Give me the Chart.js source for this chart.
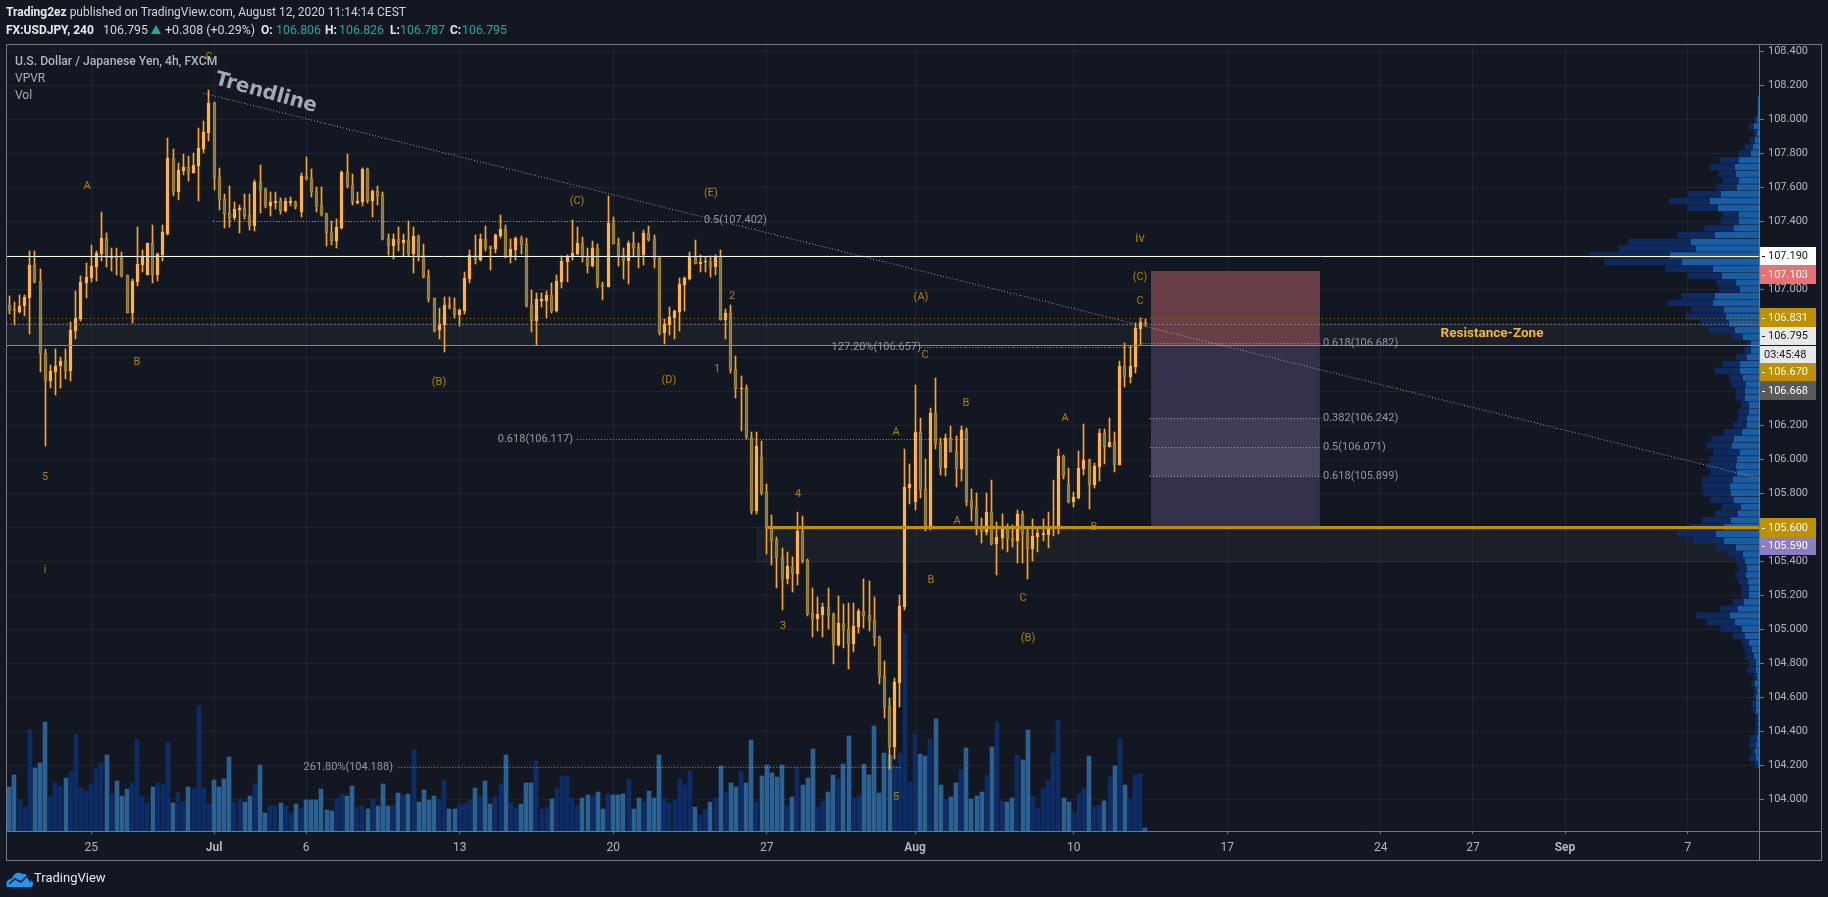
<!DOCTYPE html>
<html>
<head>
<meta charset="utf-8">
<title>USDJPY</title>
<script src="https://cdn.jsdelivr.net/npm/chart.js@4/dist/chart.umd.js"></script>
<style>
  html, body { margin: 0; padding: 0; background: #131722; overflow: hidden; }
  #page { position: relative; width: 1828px; height: 897px; }
  canvas { position: absolute; left: 0; top: 0; }
  .hd { position: absolute; white-space: nowrap; font: 12px Roboto, sans-serif; color: #d1d4dc; line-height: 16px; }
  .hd b { font-weight: 700; color: #e6e8ee; }
  .v { font-size: 12.4px; }
  .teal { color: #26a69a; }
</style>
</head>
<body>
<div id="page">
  <canvas id="myChart" width="1828" height="897"></canvas>
  <div class="hd" style="left:6px;top:4px"><b>Trading2ez</b> published on TradingView.com, August 12, 2020 11:14:14 CEST</div>
  <div class="hd" style="left:6px;top:22px"><b>FX:USDJPY, 240</b></div>
  <div class="hd v" style="left:103px;top:22px">106.795</div>
  <svg style="position:absolute;left:151px;top:25px" width="10" height="9" viewBox="0 0 10 9"><path d="M5 0 L10 9 L0 9 Z" fill="#26a69a"/></svg>
  <div class="hd v" style="left:165px;top:22px">+0.308 (+0.29%)</div>
  <div class="hd" style="left:261px;top:22px"><b>O:</b></div>
  <div class="hd teal v" style="left:276px;top:22px">106.806</div>
  <div class="hd" style="left:325px;top:22px"><b>H:</b></div>
  <div class="hd teal v" style="left:339px;top:22px">106.826</div>
  <div class="hd" style="left:390px;top:22px"><b>L:</b></div>
  <div class="hd teal v" style="left:400px;top:22px">106.787</div>
  <div class="hd" style="left:450px;top:22px"><b>C:</b></div>
  <div class="hd teal v" style="left:462px;top:22px">106.795</div>
  <svg style="position:absolute;left:6px;top:871px" width="27" height="16" viewBox="0 0 27 16">
    <path d="M1 16 C-1 11 2 8 6 8 C7 3 12 0 16 3 C20 2 23 5 23 8 C27 9 28 13 26 16 Z" fill="#2196f3"/>
    <path d="M3 13 L9 8 L15 11 L21 5 L25 11" fill="none" stroke="#131722" stroke-width="1.6"/>
  </svg>
  <div class="hd" style="left:34px;top:870px;font-size:13px;color:#e6e8ee">TradingView</div>
</div>
<script>
"use strict";

var opens = [
  106.910,106.887,106.869,106.899,106.951,107.146,107.051,106.628,106.463,106.516,
  106.546,106.581,106.522,106.757,106.828,107.040,107.069,107.134,107.210,107.304,
  107.187,107.195,107.187,107.087,106.863,107.046,107.146,107.087,107.275,107.087,
  107.204,107.328,107.775,107.575,107.699,107.722,107.687,107.728,107.828,107.922,
  108.099,107.663,107.534,107.451,107.422,107.469,107.481,107.440,107.375,107.634,
  107.593,107.493,107.510,107.522,107.463,107.510,107.516,107.457,107.669,107.657,
  107.581,107.499,107.446,107.340,107.287,107.363,107.693,107.616,107.510,107.516,
  107.710,107.522,107.581,107.557,107.304,107.257,107.299,107.275,107.292,107.210,
  107.316,107.204,107.080,106.951,106.763,106.792,106.910,106.892,106.851,106.875,
  107.063,107.204,107.175,107.298,107.257,107.239,107.316,107.357,107.196,107.233,
  107.304,107.269,106.910,106.816,106.933,106.933,106.969,106.875,107.045,107.163,
  107.192,107.210,107.275,107.198,107.139,107.245,107.033,107.016,107.392,107.275,
  107.204,107.169,107.275,107.251,107.204,107.333,107.298,107.186,106.745,106.792,
  106.833,106.869,107.028,107.063,107.192,107.151,107.159,107.163,107.133,107.198,
  106.822,106.863,106.533,106.416,106.422,106.132,105.697,106.015,105.809,105.597,
  105.526,105.426,105.297,105.374,105.326,105.579,105.409,105.097,105.062,105.085,
  105.132,105.091,104.909,105.038,105.003,104.915,105.015,105.109,105.085,105.056,
  104.956,104.726,104.550,104.309,104.685,105.132,105.832,105.750,106.162,105.826,
  105.591,106.274,106.097,105.950,106.126,106.050,105.944,106.174,105.756,105.721,
  105.609,105.574,105.691,105.503,105.538,105.597,105.538,105.521,105.679,105.568,
  105.474,105.544,105.556,105.556,105.597,105.603,106.021,105.856,105.750,105.774,
  105.944,105.997,105.850,105.956,106.156,106.074,106.103,105.968,106.550,106.486,
  106.544,106.768,106.806
];
var highs = [
  106.963,106.928,106.969,106.969,107.228,107.228,107.122,106.646,106.557,106.646,
  106.599,106.651,106.810,106.993,107.081,107.157,107.263,107.228,107.457,107.334,
  107.246,107.246,107.222,107.087,107.063,107.369,107.234,107.275,107.381,107.216,
  107.381,107.893,107.828,107.746,107.799,107.787,107.804,107.951,107.993,108.175,
  108.105,107.716,107.563,107.610,107.516,107.499,107.563,107.563,107.646,107.734,
  107.599,107.575,107.575,107.540,107.540,107.546,107.522,107.687,107.781,107.710,
  107.604,107.604,107.451,107.404,107.416,107.699,107.799,107.681,107.575,107.716,
  107.716,107.587,107.610,107.575,107.328,107.328,107.369,107.328,107.404,107.369,
  107.322,107.269,107.116,106.951,106.892,106.957,106.957,106.951,106.886,107.104,
  107.233,107.322,107.328,107.375,107.257,107.328,107.439,107.380,107.298,107.310,
  107.316,107.304,106.998,106.980,106.980,106.992,107.039,107.086,107.198,107.204,
  107.410,107.369,107.310,107.245,107.286,107.269,107.045,107.551,107.428,107.304,
  107.245,107.286,107.339,107.275,107.351,107.375,107.322,107.192,106.828,106.898,
  106.880,107.069,107.072,107.222,107.292,107.204,107.192,107.198,107.204,107.233,
  106.886,106.910,106.610,106.492,106.439,106.162,106.162,106.109,105.856,105.674,
  105.544,105.479,105.456,105.426,105.691,105.668,105.415,105.244,105.191,105.156,
  105.244,105.097,105.197,105.150,105.156,105.156,105.121,105.297,105.285,105.191,
  104.962,104.815,104.597,104.715,105.203,106.062,105.974,106.438,106.244,106.003,
  106.303,106.479,106.126,106.150,106.197,106.138,106.197,106.185,105.826,105.803,
  105.656,105.803,105.879,105.632,105.679,105.621,105.615,105.703,105.697,105.591,
  105.650,105.591,105.650,105.691,105.879,106.062,106.026,105.950,105.809,106.050,
  106.209,106.003,105.979,106.179,106.179,106.244,106.162,106.580,106.686,106.668,
  106.803,106.833,106.826
];
var lows = [
  106.857,106.793,106.861,106.846,106.740,107.040,106.516,106.075,106.422,106.381,
  106.422,106.475,106.463,106.710,106.816,106.951,107.046,107.051,107.169,107.134,
  107.110,107.087,107.075,106.863,106.799,107.022,107.104,107.087,107.040,107.051,
  107.169,107.322,107.551,107.528,107.675,107.640,107.685,107.522,107.804,107.875,
  107.587,107.469,107.363,107.369,107.410,107.334,107.416,107.351,107.346,107.451,
  107.481,107.434,107.475,107.446,107.457,107.493,107.475,107.428,107.646,107.546,
  107.457,107.434,107.257,107.263,107.246,107.357,107.599,107.499,107.504,107.493,
  107.510,107.428,107.499,107.293,107.204,107.181,107.228,107.198,107.198,107.098,
  107.169,107.069,106.928,106.751,106.710,106.633,106.886,106.833,106.786,106.857,
  107.039,107.151,107.169,107.228,107.116,107.216,107.304,107.186,107.157,107.175,
  107.210,106.898,106.751,106.675,106.898,106.833,106.863,106.869,107.010,107.045,
  107.175,107.204,107.163,107.098,107.133,107.010,106.939,107.012,107.265,107.139,
  107.063,107.033,107.192,107.128,107.145,107.286,107.128,106.733,106.680,106.733,
  106.710,106.757,106.875,107.057,107.148,107.104,107.104,107.075,107.086,106.820,
  106.710,106.510,106.363,106.169,106.122,105.679,105.679,105.791,105.444,105.379,
  105.244,105.115,105.268,105.221,105.262,105.391,105.079,104.956,104.991,104.956,
  105.003,104.797,104.903,104.891,104.768,104.868,104.979,105.009,104.991,104.903,
  104.679,104.474,104.179,104.238,104.544,105.115,105.738,105.703,105.774,105.579,
  105.585,106.062,105.909,105.903,106.040,105.838,105.874,105.726,105.638,105.556,
  105.509,105.556,105.497,105.321,105.474,105.456,105.485,105.391,105.391,105.297,
  105.403,105.456,105.521,105.479,105.550,105.562,105.885,105.744,105.721,105.768,
  105.909,105.709,105.832,105.874,105.974,106.070,105.926,105.965,106.427,106.450,
  106.509,106.674,106.787
];
var closes = [
  106.881,106.871,106.904,106.957,107.146,107.046,106.622,106.463,106.522,106.551,
  106.581,106.522,106.763,106.834,107.046,107.075,107.140,107.216,107.304,107.187,
  107.195,107.181,107.081,106.863,107.051,107.151,107.199,107.275,107.087,107.210,
  107.340,107.775,107.575,107.704,107.722,107.687,107.734,107.834,107.928,108.099,
  107.657,107.528,107.446,107.422,107.475,107.481,107.434,107.375,107.634,107.587,
  107.493,107.516,107.522,107.463,107.522,107.522,107.487,107.669,107.650,107.575,
  107.493,107.440,107.334,107.287,107.369,107.693,107.610,107.516,107.522,107.710,
  107.522,107.581,107.551,107.299,107.257,107.299,107.275,107.292,107.210,107.316,
  107.198,107.075,106.945,106.757,106.798,106.910,106.892,106.851,106.880,107.069,
  107.204,107.175,107.298,107.251,107.239,107.322,107.357,107.192,107.239,107.304,
  107.263,106.904,106.816,106.945,106.945,106.969,106.875,107.051,107.169,107.198,
  107.216,107.275,107.192,107.139,107.245,107.028,107.016,107.392,107.269,107.198,
  107.169,107.275,107.245,107.204,107.333,107.292,107.180,106.745,106.798,106.839,
  106.875,107.033,107.069,107.192,107.151,107.161,107.163,107.133,107.198,106.822,
  106.863,106.528,106.416,106.422,106.128,105.697,106.079,105.803,105.597,105.521,
  105.421,105.297,105.374,105.326,105.579,105.403,105.091,105.062,105.091,105.132,
  105.085,104.909,105.038,104.997,104.915,105.021,105.109,105.079,105.050,104.950,
  104.721,104.544,104.309,104.691,105.138,105.838,105.856,106.162,105.821,105.591,
  106.274,106.091,105.950,106.126,106.044,105.944,106.174,105.750,105.715,105.603,
  105.574,105.691,105.503,105.544,105.591,105.532,105.521,105.679,105.562,105.474,
  105.550,105.568,105.568,105.591,105.609,106.021,105.903,105.750,105.779,105.950,
  105.997,105.850,105.962,106.156,106.074,106.103,105.968,106.550,106.486,106.550,
  106.774,106.809,106.795
];
var volumes = [
  133,169,94,73,304,190,205,328,103,145,
  136,160,181,292,130,121,142,187,205,229,
  112,151,106,127,145,277,106,85,133,145,
  142,268,85,118,88,133,127,376,130,82,
  154,133,157,223,88,97,88,106,142,199,
  55,76,76,85,76,55,82,70,94,94,
  94,127,64,61,100,112,106,136,73,76,
  67,97,76,142,76,76,115,109,112,244,
  88,124,94,106,97,154,67,67,79,85,
  94,130,106,151,82,103,142,229,85,70,
  82,145,145,211,67,73,97,130,166,166,
  100,76,100,109,106,118,67,112,109,109,
  112,157,67,100,88,121,100,229,100,85,
  94,160,139,181,73,49,64,88,100,196,
  115,145,133,181,145,274,88,166,199,175,
  163,199,76,103,193,139,160,247,73,91,
  118,169,157,202,286,100,109,202,169,316,
  115,235,229,194,235,592,148,292,232,226,
  277,337,139,94,103,145,184,250,97,106,
  118,169,253,328,91,88,100,229,214,304,
  106,70,130,151,235,334,100,88,55,112,
  127,226,73,79,91,163,196,280,139,97,
  169,172,10
];

// volume profile rows, top to bottom
var vpPrices = [
  108.12,108.08,108.04,108.00,107.96,107.92,107.88,107.84,107.80,107.76,
  107.72,107.68,107.64,107.60,107.56,107.52,107.48,107.44,107.40,107.36,
  107.32,107.28,107.24,107.20,107.16,107.12,107.08,107.04,107.00,106.96,
  106.92,106.88,106.84,106.80,106.76,106.72,106.68,106.64,106.60,106.56,
  106.52,106.48,106.44,106.40,106.36,106.32,106.28,106.24,106.20,106.16,
  106.12,106.08,106.04,106.00,105.96,105.92,105.88,105.84,105.80,105.76,
  105.72,105.68,105.64,105.60,105.56,105.52,105.48,105.44,105.40,105.36,
  105.32,105.28,105.24,105.20,105.16,105.12,105.08,105.04,105.00,104.96,
  104.92,104.88,104.84,104.80,104.76,104.72,104.68,104.64,104.60,104.56,
  104.52,104.48,104.44,104.40,104.36,104.32,104.28,104.24,104.20
];
var vpNear = [
  3,3,4,7,16,7,13,19,25,61,
  73,70,61,67,115,148,124,61,61,76,
  133,205,190,268,232,139,112,70,58,133,
  139,106,100,91,73,49,25,25,37,58,
  58,49,40,43,43,31,31,37,37,52,
  76,82,58,67,70,67,79,88,85,76,
  55,64,85,106,130,106,70,49,43,37,
  40,34,31,31,46,64,88,73,52,43,
  31,22,16,10,10,7,13,7,10,10,
  10,4,4,4,7,10,13,10,4
];
var vpFar = [
  1,1,2,6,12,9,15,24,36,57,
  72,51,48,60,99,120,90,48,54,87,
  111,186,231,240,231,141,102,57,60,99,
  135,96,120,84,75,33,9,18,30,51,
  75,39,42,27,24,21,30,27,39,51,
  66,75,78,81,84,78,90,84,81,69,
  57,66,87,102,114,93,60,42,27,24,
  30,27,21,21,30,51,99,84,63,36,
  18,21,24,18,24,9,9,6,6,12,
  6,6,6,6,18,18,9,18,9
];

var priceTicks = [108.4,108.2,108.0,107.8,107.6,107.4,107.2,107.0,106.8,106.6,106.4,106.2,106.0,105.8,105.6,105.4,105.2,105.0,104.8,104.6,104.4,104.2,104.0];
var dateTickBars = [16,40,58,88,118,148,177,208,238,268,286,304,328];
var dateTickLabels = ["25","Jul","6","13","20","27","Aug","10","17","24","27","Sep","7"];

// drawing levels: [price, first bar, last bar]
var trendFrom = [37.9, 108.154];
var trendTo = [341.9, 105.888];
var whiteLevel = 107.196;
var goldLevel = 106.670;
var goldThick = [105.600, 148, 341.9];
var dottedLevel = 106.831;
var lastPrice = 106.795;
var fibLevels = [
  [107.402, 39.8, 135],
  [106.657, 178.2, 221],
  [106.682, 221.4, 256.4],
  [106.117, 110.9, 187.7],
  [106.242, 222.9, 256.4],
  [106.071, 222.9, 256.4],
  [105.899, 222.9, 256.4],
  [104.188, 76, 174.1]
];
var fibNames = ["0.5(107.402)", "127.20%(106.657)", "0.618(106.682)", "0.618(106.117)", "0.382(106.242)", "0.5(106.071)", "0.618(105.899)", "261.80%(104.188)"];
// shaded boxes: [top price, bottom price, first bar, last bar]
var zones = [
  [106.795, 106.670, -0.65, 341.9],
  [105.600, 105.390, 146, 341.9]
];
var riskBox = [107.108, 106.670, 223.1, 256.1];
var rewardBox = [106.670, 105.590, 223.1, 256.1];
var rewardBands = [[106.242, 106.071], [106.071, 105.899]];

var tagTexts = ["107.190", "107.103", "106.831", "106.795", "03:45:48", "106.670", "106.668", "105.600", "105.590"];
var tagBacks = ["#ffffff", "#e57373", "#bf9000", "#e8e8e8", "#e8e8e8", "#bf9000", "#5a5a5a", "#bf9000", "#8c7dc0"];
var tagFores = ["#131722", "#ffffff", "#ffffff", "#131722", "#131722", "#ffffff", "#ffffff", "#ffffff", "#ffffff"];

var waveLabels = ["A","B","5","i","C","(B)","(C)","(E)","(D)","2","1","4","3","A","B","A","C","(B)","B","B","A","C","(A)","5","C","(C)"];

var BRIGHT = "#ffb347";
var WICK = "#f9a825";
var DOWN_FILL = "#857545";
var DOWN_EDGE = "#ad8c2c";
var AXIS_TEXT = "#b2b5be";
var FRAME = "#73767f";
var GOLD_TEXT = "#a8820a";
var FONT = "Roboto, sans-serif";

function isUp(i) { return closes[i] >= opens[i]; }
function lineData(a, b, c) { return [{x: b, y: a}, {x: c, y: a}]; }

var bars = opens.map(function (v, i) { return i; });

var datasets = [];
function addLine(data, color, width, dash, order) {
  datasets.push({
    type: "line", data: data, xAxisID: "x", yAxisID: "y",
    borderColor: color, borderWidth: width, borderDash: dash,
    pointRadius: 0, fill: false, tension: 0, order: order
  });
}

addLine([{x: trendFrom[0], y: trendFrom[1]}, {x: trendTo[0], y: trendTo[1]}], "rgba(190,194,205,0.75)", 1, [1, 2], 0);
addLine(lineData(whiteLevel, -0.65, 341.9), "#ffffff", 1, [], 0);
addLine(lineData(goldLevel, -0.65, 341.9), "#b08a14", 1, [], 0);
addLine(lineData(goldThick[0], goldThick[1], goldThick[2]), "#bf9000", 3, [], 0);
addLine(lineData(dottedLevel, -0.65, 341.9), "rgba(176,138,20,0.7)", 1, [1, 3], 1);
addLine(lineData(lastPrice, -0.65, 341.9), "rgba(130,133,145,0.75)", 1, [2, 2], 1);
fibLevels.forEach(function (f) {
  addLine(lineData(f[0], f[1], f[2]), "rgba(190,194,205,0.7)", 1, [1, 2], 1);
});

datasets.push({
  label: "bodies",
  data: bars.map(function (i) { return {x: i, y: [opens[i], closes[i]]}; }),
  xAxisID: "x", yAxisID: "y", barThickness: 3, grouped: false, minBarLength: 1,
  backgroundColor: bars.map(function (i) { return isUp(i) ? BRIGHT : DOWN_FILL; }),
  borderColor: bars.map(function (i) { return isUp(i) ? BRIGHT : DOWN_EDGE; }),
  borderWidth: 1, borderSkipped: false, order: 2
});
datasets.push({
  label: "wicks",
  data: bars.map(function (i) { return {x: i, y: [lows[i], highs[i]]}; }),
  xAxisID: "x", yAxisID: "y", barThickness: 1, grouped: false,
  backgroundColor: WICK, borderWidth: 0, order: 3
});
datasets.push({
  label: "profile far",
  indexAxis: "y",
  data: vpPrices.map(function (p, i) { return {x: [vpNear[i], vpNear[i] + vpFar[i]], y: p}; }),
  xAxisID: "vpx", yAxisID: "y", barThickness: 5.6, grouped: false,
  backgroundColor: "#0f2a5e", borderWidth: 0, order: 4
});
datasets.push({
  label: "profile near",
  indexAxis: "y",
  data: vpPrices.map(function (p, i) { return {x: [0, vpNear[i]], y: p}; }),
  xAxisID: "vpx", yAxisID: "y", barThickness: 5.6, grouped: false,
  backgroundColor: "#1a5da3", borderWidth: 0, order: 4
});
datasets.push({
  label: "volume",
  data: bars.map(function (i) { return {x: i, y: volumes[i]}; }),
  xAxisID: "x", yAxisID: "v", barThickness: 4, grouped: false,
  backgroundColor: bars.map(function (i) { return isUp(i) ? "#0e2c66" : "#2c6193"; }),
  borderWidth: 0, order: 5
});

function text(ctx, s, x, y, font, color, align) {
  ctx.font = font;
  ctx.fillStyle = color;
  ctx.textAlign = align || "center";
  ctx.textBaseline = "middle";
  ctx.fillText(s, x, y);
}

var sketchPlugin = {
  id: "sketch",
  // candles and level lines on whole pixels, like the original
  afterDatasetsUpdate: function (chart) {
    chart.data.datasets.forEach(function (ds, d) {
      var pts = chart.getDatasetMeta(d).data;
      if (ds.type === "line") {
        if (ds.data[0].y === ds.data[1].y) {
          pts.forEach(function (el) { el.y = Math.floor(el.y) + 0.5; });
        }
        return;
      }
      if (ds.indexAxis === "y") { return; }
      pts.forEach(function (el) {
        var odd = ds.barThickness % 2 === 1;
        el.x = odd ? Math.floor(el.x) + 0.5 : Math.round(el.x);
        el.y = Math.round(el.y);
        el.base = Math.round(el.base);
        if (el.y === el.base) { el.base = el.y + 1; }
        el.height = el.base - el.y;
      });
    });
  },
  beforeDatasetsDraw: function (chart) {
    var ctx = chart.ctx, x = chart.scales.x, y = chart.scales.y;
    function box(b, color) {
      ctx.fillStyle = color;
      ctx.fillRect(x.getPixelForValue(b[2]), y.getPixelForValue(b[0]),
        x.getPixelForValue(b[3]) - x.getPixelForValue(b[2]), y.getPixelForValue(b[1]) - y.getPixelForValue(b[0]));
    }
    zones.forEach(function (z) { box(z, "rgba(190,190,150,0.055)"); });
    box(riskBox, "#683f47");
    box(rewardBox, "#33314c");
    box([rewardBands[0][0], rewardBands[0][1], rewardBox[2], rewardBox[3]], "rgba(255,255,255,0.07)");
    box([rewardBands[1][0], rewardBands[1][1], rewardBox[2], rewardBox[3]], "rgba(255,255,255,0.10)");
  },
  afterDatasetsDraw: function (chart) {
    var ctx = chart.ctx;
    ctx.save();
    var wavePos = [[87,186],[137,362],[45,477],[45,570],[209,57],[439,382],[577,201],[711,193],[669,380],[732,296],[717,369],[798,494],[783,626],[896,432],[931,580],[957,521],[1023,598],[1028,638],[1094,527],[966,403],[1065,418],[925,355],[921,297],[896,797],[1140,301],[1140,277]];
    waveLabels.forEach(function (s, i) {
      text(ctx, s, wavePos[i][0], wavePos[i][1], "11px " + FONT, GOLD_TEXT);
    });
    text(ctx, "iv", 1140, 239, "13px " + FONT, GOLD_TEXT);

    var fibPos = [[704,220,"left"],[921,347,"right"],[1323,343,"left"],[573,439,"right"],[1323,418,"left"],[1323,447,"left"],[1323,476,"left"],[393,767,"right"]];
    fibNames.forEach(function (s, i) {
      text(ctx, s, fibPos[i][0], fibPos[i][1], "11px " + FONT, "#9598a1", fibPos[i][2]);
    });

    text(ctx, "Resistance-Zone", 1492, 334, "bold 13.5px " + FONT, "#f5b53a");

    ctx.save();
    ctx.translate(266, 93);
    ctx.rotate(15.5 * Math.PI / 180);
    text(ctx, "Trendline", 0, 0, "bold 20px 'DejaVu Sans'", "#a5a8b8");
    ctx.restore();

    text(ctx, "U.S. Dollar / Japanese Yen, 4h, FXCM", 15, 62, "500 12.2px " + FONT, "#b2b5be", "left");
    text(ctx, "VPVR", 15, 79, "12px " + FONT, "#a9acb6", "left");
    text(ctx, "Vol", 15, 96, "12px " + FONT, "#a9acb6", "left");
    ctx.restore();
  },
  afterDraw: function (chart) {
    var ctx = chart.ctx;
    ctx.save();
    ctx.strokeStyle = FRAME;
    ctx.lineWidth = 1;
    ctx.strokeRect(6.5, 44.5, 1815, 816);
    ctx.beginPath();
    ctx.moveTo(1759.5, 44); ctx.lineTo(1759.5, 860);
    ctx.moveTo(6, 831.5); ctx.lineTo(1821, 831.5);
    ctx.stroke();

    var tops = [247, 265, 308, 327, 346, 363, 381, 518, 537];
    var lows2 = [265, 284, 327, 345, 363, 381, 400, 537, 555];
    tagTexts.forEach(function (s, i) {
      ctx.fillStyle = tagBacks[i];
      ctx.fillRect(1760, tops[i], 56, lows2[i] - tops[i]);
      if (s.indexOf(":") < 0) {
        ctx.fillStyle = tagFores[i];
        ctx.fillRect(1762, Math.round((tops[i] + lows2[i]) / 2), 3, 1);
      }
      var tx = s.indexOf(":") < 0 ? 1768 : 1764;
      text(ctx, s, tx, (tops[i] + lows2[i]) / 2 + 0.5, "11px " + FONT, tagFores[i], "left");
    });
    ctx.restore();
  }
};

var myChart = new Chart(document.getElementById("myChart"), {
  type: "bar",
  data: {datasets: datasets},
  plugins: [sketchPlugin],
  options: {
    responsive: false,
    animation: false,
    devicePixelRatio: 1,
    layout: {padding: {left: 6, top: 44, right: 7, bottom: 37}},
    plugins: {legend: {display: false}, tooltip: {enabled: false}},
    scales: {
      x: {
        type: "linear", position: "bottom", min: -0.645, max: 341.9,
        offset: false,
        afterBuildTicks: function (s) { s.ticks = dateTickBars.map(function (v) { return {value: v}; }); },
        afterFit: function (s) { s.height = 29; },
        grid: {color: "rgba(60,65,80,0.33)", tickColor: FRAME, tickLength: 3, offset: false},
        border: {display: false},
        ticks: {
          autoSkip: false, maxRotation: 0, padding: 7, color: AXIS_TEXT,
          callback: function (v) { return dateTickLabels[dateTickBars.indexOf(v)]; },
          font: function (c) {
            var bold = c.tick && isNaN(parseInt(dateTickLabels[dateTickBars.indexOf(c.tick.value)], 10));
            return {family: FONT, size: 12, weight: bold ? "bold" : "normal"};
          }
        }
      },
      y: {
        type: "linear", position: "right", min: 103.8117, max: 108.4441,
        offset: false,
        afterBuildTicks: function (s) { s.ticks = priceTicks.map(function (v) { return {value: v}; }); },
        afterFit: function (s) { s.width = 62; },
        grid: {color: "rgba(60,65,80,0.33)", tickColor: FRAME, tickLength: 5, offset: false},
        border: {display: false},
        ticks: {
          autoSkip: false, padding: 4, color: AXIS_TEXT, align: "center",
          font: {family: FONT, size: 11},
          callback: function (v) { return v.toFixed(3); }
        }
      },
      v: {axis: "y", type: "linear", display: false, min: 0, max: 2361, offset: false},
      vpx: {axis: "x", type: "linear", display: false, reverse: true, min: 0, max: 5259, offset: false}
    }
  }
});
</script>
</body>
</html>
